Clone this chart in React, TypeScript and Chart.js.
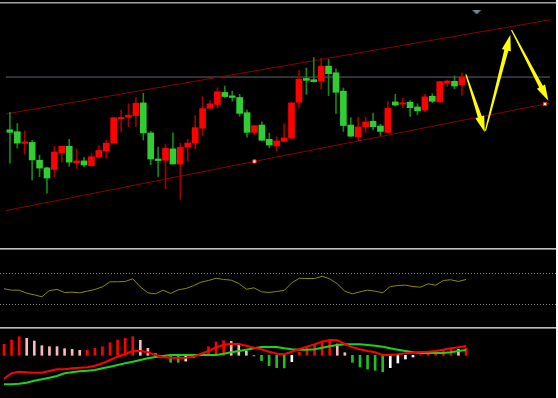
import React, { useEffect, useRef } from 'react';
import { Chart, registerables } from 'chart.js';

Chart.register(...registerables);

// ---------- data ----------
// price units: arbitrary linear price scale of the main panel
const candleOpen = [
  120.0, 118.0, 105.7, 106.7, 88.0, 80.0, 78.3, 96.0, 102.7, 85.3,
  87.3, 82.3, 91.3, 97.7, 106.0, 131.7, 133.3, 135.0, 148.3, 116.7,
  89.3, 88.0, 100.0, 84.0, 101.7, 106.0, 121.7, 142.7, 146.7, 159.3,
  155.7, 154.0, 138.0, 117.3, 125.0, 110.0, 103.0, 107.7, 111.3, 149.0,
  174.0, 172.7, 171.3, 187.0, 180.0, 160.7, 125.0, 112.7, 123.0, 129.0,
  124.0, 117.3, 149.3, 147.0, 149.0, 144.0, 140.7, 155.3, 149.3, 169.0,
  171.0, 167.3,
];
const candleHigh = [
  138.3, 126.7, 119.0, 109.0, 93.3, 80.7, 102.7, 102.7, 110.0, 100.0,
  91.0, 95.0, 103.3, 109.3, 133.3, 140.7, 147.3, 154.0, 158.3, 118.3,
  101.7, 105.0, 116.7, 106.0, 110.0, 135.0, 155.0, 150.7, 164.0, 166.0,
  160.7, 157.3, 140.7, 125.0, 128.3, 116.7, 112.7, 126.3, 149.0, 182.3,
  185.0, 196.0, 195.5, 194.0, 184.0, 164.0, 132.7, 133.3, 133.3, 137.7,
  125.7, 150.0, 157.3, 153.3, 150.7, 147.3, 157.3, 158.0, 171.0, 172.3,
  176.7, 180.0,
];
const candleLow = [
  85.0, 100.7, 94.3, 67.3, 70.7, 53.3, 70.7, 86.0, 81.7, 79.3,
  81.0, 82.3, 90.7, 90.0, 105.7, 118.3, 123.3, 123.3, 109.3, 83.3,
  71.0, 57.7, 84.0, 46.7, 86.7, 100.0, 114.0, 142.7, 142.7, 154.0,
  150.0, 134.3, 112.3, 115.0, 108.3, 101.0, 97.7, 107.3, 110.7, 142.7,
  157.3, 170.0, 162.7, 156.0, 137.3, 118.3, 113.0, 108.3, 117.3, 120.0,
  114.0, 116.7, 145.0, 143.3, 134.0, 135.7, 139.0, 148.3, 149.0, 166.0,
  163.3, 156.5,
];
const candleClose = [
  117.3, 106.0, 107.3, 88.3, 79.7, 69.3, 96.7, 102.7, 86.0, 87.3,
  83.0, 91.7, 98.3, 106.0, 132.7, 133.0, 135.3, 148.0, 116.7, 89.3,
  87.7, 100.7, 84.0, 101.7, 106.0, 122.3, 142.3, 147.3, 160.0, 155.0,
  154.0, 137.3, 117.3, 124.3, 109.0, 104.0, 108.3, 111.5, 148.3, 173.3,
  172.0, 170.7, 187.0, 179.0, 159.5, 124.5, 113.3, 123.0, 128.3, 123.3,
  118.3, 142.7, 146.0, 148.3, 143.3, 140.0, 154.7, 150.0, 170.7, 171.3,
  166.0, 175.5,
];

// oscillator (RSI-like, 0..100) with 70 / 30 levels
const rsiValues = [
  50.3, 48.5, 48.5, 44.6, 42.5, 39.9, 48.1, 49.4, 45.5, 45.9,
  45.1, 47.2, 49.4, 52.8, 59.3, 59.3, 59.7, 63.2, 52.8, 45.1,
  43.8, 48.5, 44.2, 49.0, 50.6, 54.1, 58.8, 61.0, 63.9, 62.3,
  61.4, 57.1, 49.7, 51.5, 46.4, 45.5, 46.8, 48.1, 58.0, 63.9,
  63.5, 63.5, 66.5, 63.2, 56.7, 47.2, 43.8, 46.4, 48.5, 47.2,
  45.1, 53.2, 54.5, 54.9, 53.2, 52.3, 56.7, 54.9, 61.0, 61.9,
  59.7, 62.3,
];
const rsiLevels = [70, 30];

// MACD panel
const macdHist = [
  11.0, 15.3, 18.6, 17.0, 14.3, 9.6, 8.6, 8.6, 6.6, 6.0,
  5.0, 5.3, 7.0, 8.6, 12.6, 15.3, 17.0, 18.6, 15.0, 7.0,
  1.6, -0.5, -7.0, -7.0, -5.7, -2.0, 2.0, 8.6, 13.3, 14.6,
  14.0, 11.0, 4.3, -0.7, -5.3, -10.3, -12.3, -12.6, -6.4, 3.0,
  7.7, 11.0, 14.3, 15.3, 11.3, 2.6, -7.0, -11.7, -13.7, -15.0,
  -16.4, -12.4, -7.7, -3.7, -1.7, 0.5, 3.0, 4.0, 5.5, 6.3,
  6.0, 7.0,
];
const macdDif = [
  -23.4, -18.0, -16.4, -17.0, -17.4, -17.4, -15.7, -14.0, -14.0, -13.0,
  -12.4, -12.0, -10.4, -8.0, -4.7, -1.4, 1.3, 4.3, 4.3, 3.0,
  0.3, -2.0, -2.4, -2.7, -2.4, -1.4, 1.3, 4.3, 8.0, 10.6,
  11.6, 11.3, 9.6, 7.6, 6.0, 3.6, 1.6, 1.0, 3.6, 6.3,
  8.6, 11.0, 13.6, 15.3, 15.0, 11.3, 8.0, 6.0, 4.3, 3.0,
  0.3, 0.3, 1.0, 2.0, 2.6, 3.3, 3.6, 4.3, 5.6, 7.0,
  8.0, 9.3,
];
const macdDea = [
  -29.0, -29.0, -28.4, -27.4, -25.4, -24.0, -22.4, -20.7, -18.0, -17.0,
  -16.0, -15.4, -14.7, -13.0, -11.4, -9.7, -8.0, -6.4, -4.7, -3.0,
  -1.7, -0.7, 0.3, 0.3, 0.3, 0.3, 0.3, 0.3, 0.3, 1.6,
  3.0, 4.3, 5.6, 7.0, 8.3, 8.3, 8.3, 7.0, 6.0, 5.6,
  5.6, 6.0, 7.6, 9.0, 10.3, 11.0, 11.0, 11.0, 10.3, 9.6,
  8.6, 7.0, 5.6, 4.3, 3.0, 2.3, 2.3, 2.3, 2.3, 3.0,
  4.3, 5.3,
];

// drawn objects on the main panel (bar index, price)
const upperChannel = [
  { x: -0.53, y: 136.7 },
  { x: 72.9, y: 235.7 },
];
const lowerChannel = [
  { x: -0.53, y: 35.0 },
  { x: 33.0, y: 86.7 },
  { x: 72.2, y: 147.1 },
  { x: 72.9, y: 148.1 },
];
const priceLine = 175.5;
const shiftMarker = { x: 62.98, y: 244.0 };
const arrowFromX = [61.53, 64.17, 67.69];
const arrowFromY = [178.3, 119.0, 225.0];
const arrowToX = [64.08, 67.53, 72.66];
const arrowToY = [117.5, 220.0, 150.5];

// ---------- layout / style ----------
const W = 556;
const X_MIN = -0.528;
const X_MAX = 72.88;
const MAIN_TOP = 4, MAIN_H = 244;
const OSC_TOP = 250, OSC_H = 77;
const MACD_TOP = 329, MACD_H = 69;

const UP_BODY = '#ff0000';
const DOWN_BODY = '#32cd32';
const UP_WICK = '#a30000';
const DOWN_WICK = '#138a13';

const idx = candleOpen.map((_, i) => i);
const isUp = idx.map((i) => candleClose[i] >= candleOpen[i]);

function makeShiftGlyph(): HTMLCanvasElement {
  const c = document.createElement('canvas');
  c.width = 10;
  c.height = 5;
  const g = c.getContext('2d') as CanvasRenderingContext2D;
  g.fillStyle = '#7b8793';
  g.beginPath();
  g.moveTo(0, 0);
  g.lineTo(10, 0);
  g.lineTo(5, 5);
  g.closePath();
  g.fill();
  return c;
}

const arrowPlugin = {
  id: 'arrows',
  afterDatasetsDraw(chart: any) {
    const { ctx } = chart;
    const xs = chart.scales.x;
    const ys = chart.scales.y;
    ctx.save();
    for (let k = 0; k < arrowFromX.length; k++) {
      const x0 = xs.getPixelForValue(arrowFromX[k]);
      const y0 = ys.getPixelForValue(arrowFromY[k]);
      const x1 = xs.getPixelForValue(arrowToX[k]);
      const y1 = ys.getPixelForValue(arrowToY[k]);
      const dx = x1 - x0, dy = y1 - y0;
      const len = Math.hypot(dx, dy);
      const ux = dx / len, uy = dy / len;
      const nx = -uy, ny = ux;
      const head = 16, hw = 4.6, w0 = 0.6, w1 = 2.1;
      const bx = x1 - ux * head, by = y1 - uy * head;
      ctx.beginPath();
      ctx.moveTo(x0 + nx * w0, y0 + ny * w0);
      ctx.lineTo(bx + nx * w1, by + ny * w1);
      ctx.lineTo(bx + nx * hw, by + ny * hw);
      ctx.lineTo(x1, y1);
      ctx.lineTo(bx - nx * hw, by - ny * hw);
      ctx.lineTo(bx - nx * w1, by - ny * w1);
      ctx.lineTo(x0 - nx * w0, y0 - ny * w0);
      ctx.closePath();
      ctx.fillStyle = '#ffff00';
      ctx.fill();
    }
    ctx.restore();
  },
};

const xScale = { type: 'linear', min: X_MIN, max: X_MAX, display: false, offset: false };
const baseOptions = {
  responsive: false,
  animation: false,
  events: [],
  layout: { padding: 0 },
  plugins: { legend: { display: false }, tooltip: { enabled: false } },
};

export default function App() {
  const mainRef = useRef<HTMLCanvasElement>(null);
  const oscRef = useRef<HTMLCanvasElement>(null);
  const macdRef = useRef<HTMLCanvasElement>(null);

  useEffect(() => {
    const charts: Chart[] = [];

    const main = new Chart(mainRef.current as HTMLCanvasElement, {
      type: 'bar',
      data: {
        datasets: [
          {
            type: 'line',
            data: [{ x: shiftMarker.x, y: shiftMarker.y }],
            showLine: false,
            pointStyle: makeShiftGlyph(),
            pointRadius: 5,
            order: 0,
          },
          {
            type: 'bar',
            data: idx.map((i) => ({ x: i, y: [candleOpen[i], candleClose[i]] })),
            backgroundColor: idx.map((i) => (isUp[i] ? UP_BODY : DOWN_BODY)),
            borderWidth: 0,
            barThickness: 6,
            grouped: false,
            order: 1,
          },
          {
            type: 'bar',
            data: idx.map((i) => ({ x: i, y: [candleLow[i], candleHigh[i]] })),
            backgroundColor: idx.map((i) => (isUp[i] ? UP_WICK : DOWN_WICK)),
            borderWidth: 0,
            barThickness: 1,
            grouped: false,
            order: 2,
          },
          {
            type: 'line',
            data: lowerChannel,
            borderColor: '#8b0000',
            borderWidth: 1,
            pointRadius: lowerChannel.map((_, i) => (i === 0 || i === lowerChannel.length - 1 ? 0 : 2.2)),
            pointStyle: 'rect',
            pointBackgroundColor: '#ffffff',
            pointBorderColor: '#ff3030',
            pointBorderWidth: 1,
            tension: 0,
            order: 3,
          },
          {
            type: 'line',
            data: upperChannel,
            borderColor: '#8b0000',
            borderWidth: 1,
            pointRadius: 0,
            tension: 0,
            order: 3,
          },
          {
            type: 'line',
            data: [
              { x: X_MIN - 1, y: priceLine },
              { x: X_MAX + 1, y: priceLine },
            ],
            borderColor: '#5f666d',
            borderWidth: 1,
            pointRadius: 0,
            order: 4,
          },
        ] as any,
      },
      options: {
        ...baseOptions,
        scales: {
          x: xScale,
          y: { type: 'linear', min: 2, max: 246, display: false },
        },
      } as any,
      plugins: [arrowPlugin],
    });
    charts.push(main);

    const osc = new Chart(oscRef.current as HTMLCanvasElement, {
      type: 'line',
      data: {
        datasets: [
          {
            data: idx.map((i) => ({ x: i, y: rsiValues[i] })),
            borderColor: '#8c8c00',
            borderWidth: 1,
            pointRadius: 0,
            tension: 0,
          },
          ...rsiLevels.map((lv) => ({
            data: [
              { x: X_MIN, y: lv },
              { x: X_MAX, y: lv },
            ],
            borderColor: '#8a8a8a',
            borderWidth: 1,
            borderDash: [1, 2],
            pointRadius: 0,
          })),
        ],
      },
      options: {
        ...baseOptions,
        scales: {
          x: xScale,
          y: { type: 'linear', min: 0.97, max: 100.32, display: false },
        },
      } as any,
    });
    charts.push(osc);

    const histColor = macdHist.map((v, i) => {
      const prev = i > 0 ? macdHist[i - 1] : -Infinity;
      if (v >= 0) return v > prev ? '#ff0000' : '#ffb6c1';
      return v > prev ? '#ffffff' : '#1fc01f';
    });

    const macd = new Chart(macdRef.current as HTMLCanvasElement, {
      type: 'bar',
      data: {
        datasets: [
          {
            type: 'line',
            data: idx.map((i) => ({ x: i, y: macdDif[i] })),
            borderColor: '#ff0000',
            borderWidth: 2,
            pointRadius: 0,
            tension: 0,
            order: 0,
          },
          {
            type: 'line',
            data: idx.map((i) => ({ x: i, y: macdDea[i] })),
            borderColor: '#19d419',
            borderWidth: 2,
            pointRadius: 0,
            tension: 0,
            order: 1,
          },
          {
            type: 'bar',
            data: idx.map((i) => ({ x: i, y: macdHist[i] })),
            backgroundColor: histColor,
            borderWidth: 0,
            barThickness: 2,
            grouped: false,
            order: 2,
          },
        ] as any,
      },
      options: {
        ...baseOptions,
        scales: {
          x: xScale,
          y: { type: 'linear', min: -42.7, max: 26.3, display: false },
        },
      } as any,
    });
    charts.push(macd);

    return () => charts.forEach((c) => c.destroy());
  }, []);

  const abs = (top: number, h: number, bg?: string): React.CSSProperties => ({
    position: 'absolute',
    left: 0,
    top,
    width: W,
    height: h,
    background: bg,
  });

  return (
    <div style={{ position: 'absolute', left: 0, top: 0, width: W, height: 398, background: '#000', overflow: 'hidden' }}>
      <div style={abs(2, 1, '#a2a2a2')} />
      <div style={abs(3, 1, '#555555')} />
      <canvas ref={mainRef} width={W} height={MAIN_H} style={{ ...abs(MAIN_TOP, MAIN_H), display: 'block' }} />
      <div style={abs(248, 1, '#bdbdbd')} />
      <div style={abs(249, 1, '#7a7a7a')} />
      <canvas ref={oscRef} width={W} height={OSC_H} style={{ ...abs(OSC_TOP, OSC_H), display: 'block' }} />
      <div style={abs(327, 1, '#bdbdbd')} />
      <div style={abs(328, 1, '#7a7a7a')} />
      <canvas ref={macdRef} width={W} height={MACD_H} style={{ ...abs(MACD_TOP, MACD_H), display: 'block' }} />
    </div>
  );
}
